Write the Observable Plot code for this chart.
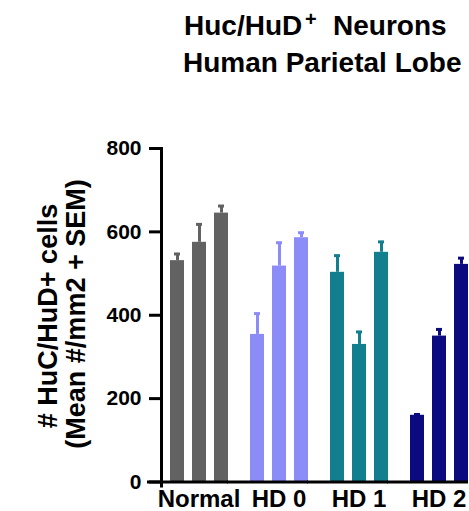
<!DOCTYPE html>
<html>
<head>
<meta charset="utf-8">
<script src="https://cdn.jsdelivr.net/npm/d3@7"></script>
<script src="https://cdn.jsdelivr.net/npm/@observablehq/plot@0.6"></script>
<style>
  html, body { margin: 0; padding: 0; background: #fff; overflow: hidden; }
  svg { display: block; }
</style>
</head>
<body>
<div id="chart"></div>
<script>
// ---- data ----
const groups = ["Normal", "HD 0", "HD 1", "HD 2"];
const meanNormal = [531, 575, 645];
const semNormal  = [16, 43, 17];
const meanHD0 = [354, 518, 586];
const semHD0  = [50, 56, 12];
const meanHD1 = [503, 330, 551];
const semHD1  = [40, 30, 25];
const meanHD2 = [160, 350, 522];
const semHD2  = [2, 16, 15];
const yTicks = [0, 200, 400, 600, 800];
const colors = ["#626262", "#8c8cf8", "#137e8d", "#0b0b7f"];
const titleLine1 = "Huc/HuD";
const titleSup = "+";
const titleLine1b = "Neurons";
const titleLine2 = "Human Parietal Lobe";
const yLabel1 = "# HuC/HuD+ cells";
const yLabel2 = "(Mean #/mm2 + SEM)";

const meansAll = [meanNormal, meanHD0, meanHD1, meanHD2];
const semsAll = [semNormal, semHD0, semHD1, semHD2];
const rows = [];
groups.forEach((g, gi) => {
  meansAll[gi].forEach((m, i) => {
    rows.push({group: g, rep: i, mean: m, top: m + semsAll[gi][i]});
  });
});

const FONT = "'Liberation Sans', Arial, Helvetica, sans-serif";

const chart = Plot.plot({
  width: 469,
  height: 511,
  marginLeft: 159,
  marginRight: 0,
  marginTop: 148,
  marginBottom: 29.5,
  style: {fontFamily: FONT, fontWeight: "bold", color: "#000", background: "#fff"},
  fx: {domain: groups, paddingInner: 0.1669, paddingOuter: 0, label: null, axis: null},
  x: {domain: [0, 1, 2], paddingInner: 0.347, paddingOuter: 0.171, align: 1, axis: null},
  y: {domain: [0, 800], axis: null},
  color: {domain: groups, range: colors},
  marks: [
    Plot.barY(rows, {fx: "group", x: "rep", y: "mean", fill: "group"}),
    Plot.ruleX(rows, {fx: "group", x: "rep", y1: "mean", y2: "top", stroke: "group", strokeWidth: 3}),
    Plot.tickY(rows, {fx: "group", x: "rep", y: "top", stroke: "group", strokeWidth: 3, insetLeft: 4, insetRight: 4}),
    Plot.ruleY([0], {stroke: "#000", strokeWidth: 3, insetLeft: -14}),
    Plot.frame({anchor: "left", facetAnchor: "left", stroke: "#000", strokeWidth: 3, insetBottom: -4}),
    Plot.axisY({ticks: yTicks, tickSize: 12, tickPadding: 8, fontSize: 21, strokeWidth: 3, label: null, tickFormat: d => String(d)}),
    Plot.axisFx({anchor: "bottom", tickSize: 0, tickPadding: 7.5, fontSize: 24, dx: 4, label: null})
  ]
});

document.getElementById("chart").appendChild(chart);

const svg = d3.select(chart);
// title
const t = svg.append("g").attr("font-family", FONT).attr("font-weight", "bold").attr("fill", "#000")
  .attr("text-anchor", "start");
t.append("text").attr("x", 184).attr("y", 35).attr("font-size", 28).text(titleLine1);
t.append("text").attr("x", 305).attr("y", 26).attr("font-size", 20).text(titleSup);
t.append("text").attr("x", 333).attr("y", 35).attr("font-size", 28).text(titleLine1b);
t.append("text").attr("x", 183).attr("y", 72).attr("font-size", 28).text(titleLine2);

// y label
const yl = svg.append("g").attr("font-family", FONT).attr("font-weight", "bold").attr("fill", "#000")
  .attr("font-size", 27).attr("text-anchor", "middle");
yl.append("text").attr("transform", "translate(57,316) rotate(-90)").text(yLabel1);
yl.append("text").attr("transform", "translate(85,314) rotate(-90)").text(yLabel2);
</script>
</body>
</html>
